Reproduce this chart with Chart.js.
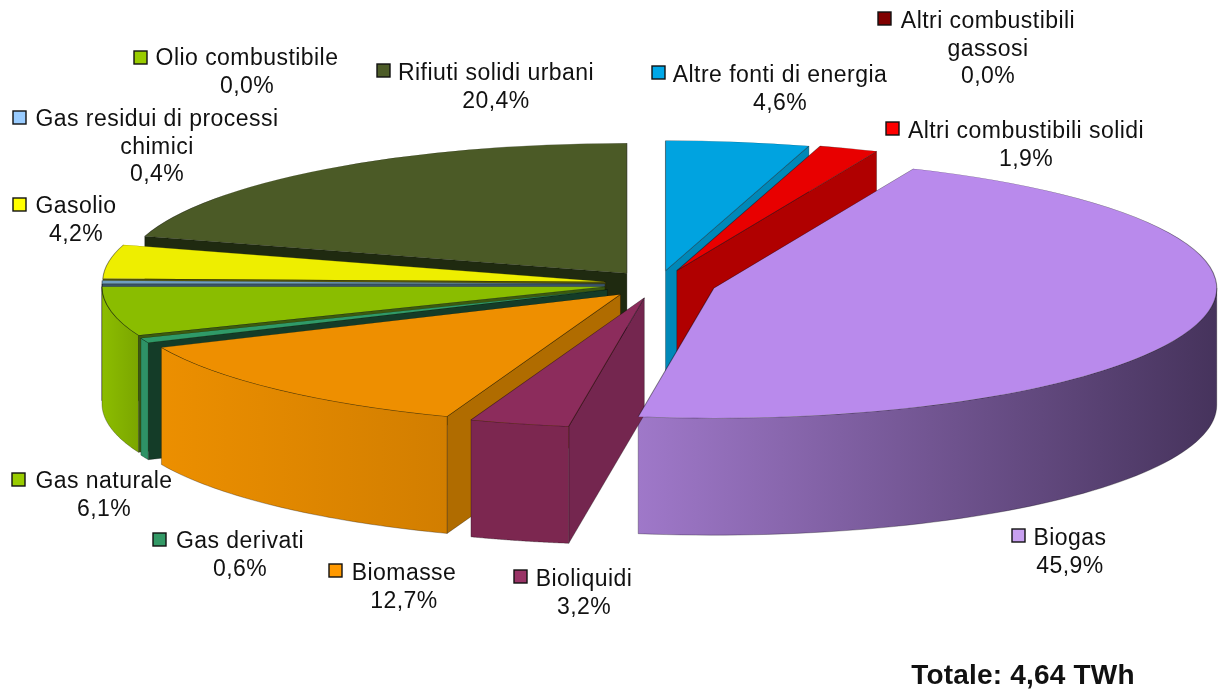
<!DOCTYPE html>
<html lang="it">
<head>
    <meta charset="UTF-8">
    <title>Totale: 4,64 TWh</title>
    <style>
        html, body { margin: 0; padding: 0; background: #fff; }
        canvas { display: block; }
    </style>
</head>
<body>
    <canvas id="myChart" width="1219" height="690"></canvas>

    <script src="https://cdn.jsdelivr.net/npm/chart.js"></script>

    <script>
        const ctx = document.getElementById('myChart');

        // Data
        const categories = [
            'Altre fonti di energia', 'Altri combustibili solidi', 'Altri combustibili\ngassosi',
            'Biogas', 'Bioliquidi', 'Biomasse', 'Gas derivati', 'Gas naturale',
            'Gas residui di processi\nchimici', 'Gasolio', 'Olio combustibile', 'Rifiuti solidi urbani'
        ];
        const values = [4.6, 1.9, 0.0, 45.9, 3.2, 12.7, 0.6, 6.1, 0.4, 4.2, 0.0, 20.4];
        const totalLabel = 'Totale: 4,64 TWh';

        // Styles, same order as categories
        const topColors = ['#00a3e0', '#e80000', '#800000', '#b98aec', '#8c2c5c', '#ee8f00',
            '#2f9a68', '#8abd00', '#6f9ec0', '#eeee00', '#99cc00', '#4b5a26'];
        const radialColors = ['#0088b8', '#b00000', '#600000', '#8a68b0', '#74264f', '#b06c00',
            '#143c28', '#3c5a10', '#3a5468', '#55550a', '#6a9000', '#1f2a10'];
        const outerLeft = ['#0088b8', '#b00000', '#600000', '#9f78c9', '#7c2750', '#ec8f00',
            '#2e9266', '#8cbd00', '#6f9ec0', '#eeee00', '#99cc00', '#4b5a26'];
        const outerRight = ['#0088b8', '#b00000', '#600000', '#46335c', '#7c2750', '#d27e00',
            '#2e9266', '#7ba600', '#6f9ec0', '#eeee00', '#99cc00', '#4b5a26'];
        const swatchColors = ['#00a8e8', '#ff0000', '#800000', '#c8a0f0', '#993366', '#ff9900',
            '#339966', '#99cc00', '#99ccff', '#ffff00', '#99cc00', '#4d5c28'];
        const explode = [52, 55, 0, 58, 55, 55, 55, 54, 53, 53, 0, 52];

        // Label anchors: centre x, first baseline, swatch x, swatch y
        const labelSpots = [
            [780, 82, 652, 66], [1026, 138, 886, 122], [988, 28, 878, 12],
            [1070, 545, 1012, 529], [584, 586, 514, 570], [404, 580, 329, 564],
            [240, 548, 153, 533], [104, 488, 12, 473], [157, 126, 13, 111],
            [76, 213, 13, 198], [247, 65, 134, 51], [496, 80, 377, 64]
        ];

        const SQUASH = 0.2585;
        const DEPTH = 117;
        const LINE = 27.5;

        // Position of a slice once squashed and pulled out from the centre
        function sliceCentre(el, i) {
            const mid = (el.startAngle + el.endAngle) / 2;
            return {
                x: el.x + Math.cos(mid) * explode[i],
                y: el.y + Math.sin(mid) * explode[i] * SQUASH
            };
        }

        function rim(c, r, a) {
            return { x: c.x + Math.cos(a) * r, y: c.y + Math.sin(a) * r * SQUASH };
        }

        function radialWall(c, r, a, color) {
            const p = rim(c, r, a);
            ctx2d.beginPath();
            ctx2d.moveTo(c.x, c.y);
            ctx2d.lineTo(p.x, p.y);
            ctx2d.lineTo(p.x, p.y + DEPTH);
            ctx2d.lineTo(c.x, c.y + DEPTH);
            ctx2d.closePath();
            ctx2d.fillStyle = color;
            ctx2d.fill();
            ctx2d.strokeStyle = 'rgba(0,0,0,0.4)';
            ctx2d.lineWidth = 0.7;
            ctx2d.stroke();
        }

        function outerWall(c, r, a0, a1, i) {
            const from = Math.max(a0, 0);
            const to = Math.min(a1, Math.PI);
            if (to <= from) return;
            const p0 = rim(c, r, from);
            const p1 = rim(c, r, to);
            const left = Math.min(p0.x, p1.x);
            const right = Math.max(p0.x, p1.x, from <= 0 ? c.x + r : 0);
            const grad = ctx2d.createLinearGradient(left, 0, right, 0);
            grad.addColorStop(0, outerLeft[i]);
            grad.addColorStop(1, outerRight[i]);
            ctx2d.beginPath();
            for (let n = 0; n <= 60; n++) {
                const p = rim(c, r, from + (to - from) * n / 60);
                ctx2d.lineTo(p.x, p.y);
            }
            for (let n = 60; n >= 0; n--) {
                const p = rim(c, r, from + (to - from) * n / 60);
                ctx2d.lineTo(p.x, p.y + DEPTH);
            }
            ctx2d.closePath();
            ctx2d.fillStyle = grad;
            ctx2d.fill();
            ctx2d.strokeStyle = 'rgba(0,0,0,0.4)';
            ctx2d.lineWidth = 0.7;
            ctx2d.stroke();
        }

        let ctx2d;

        const pie3d = {
            id: 'pie3d',
            beforeDatasetDraw(chart, args) {
                ctx2d = chart.ctx;
                const arcs = args.meta.data;
                const order = arcs.map((el, i) => i)
                    .filter(i => arcs[i].circumference > 0)
                    .sort((a, b) =>
                        Math.sin((arcs[a].startAngle + arcs[a].endAngle) / 2) -
                        Math.sin((arcs[b].startAngle + arcs[b].endAngle) / 2));

                // sides first, back to front
                order.forEach(i => {
                    const el = arcs[i];
                    const c = sliceCentre(el, i);
                    const r = el.outerRadius;
                    if (Math.cos(el.startAngle) < 0) radialWall(c, r, el.startAngle, radialColors[i]);
                    if (Math.cos(el.endAngle) > 0) radialWall(c, r, el.endAngle, radialColors[i]);
                    outerWall(c, r, el.startAngle, el.endAngle, i);
                });

                // tops, drawn by the arc elements themselves
                order.forEach(i => {
                    const el = arcs[i];
                    const c = sliceCentre(el, i);
                    ctx2d.save();
                    ctx2d.translate(c.x, c.y);
                    ctx2d.scale(1, SQUASH);
                    ctx2d.translate(-el.x, -el.y);
                    el.draw(ctx2d);
                    ctx2d.restore();
                });
                return false;
            },
            afterDraw(chart) {
                const g = chart.ctx;
                g.save();
                g.textAlign = 'center';
                g.textBaseline = 'alphabetic';
                g.fillStyle = '#111';
                g.font = '23px "Liberation Sans", Arial, sans-serif';
                g.letterSpacing = '0.45px';
                categories.forEach((name, i) => {
                    const [x, y, sx, sy] = labelSpots[i];
                    const lines = name.split('\n');
                    lines.push(values[i].toFixed(1).replace('.', ',') + '%');
                    lines.forEach((line, n) => g.fillText(line, x, y + n * LINE));
                    g.fillStyle = swatchColors[i];
                    g.fillRect(sx, sy, 13, 13);
                    g.strokeStyle = '#111';
                    g.lineWidth = 1.4;
                    g.strokeRect(sx, sy, 13, 13);
                    g.fillStyle = '#111';
                });
                g.font = 'bold 28px "Liberation Sans", Arial, sans-serif';
                g.letterSpacing = '0.2px';
                g.fillText(totalLabel, 1023, 684);
                g.restore();
            }
        };

        new Chart(ctx, {
            type: 'pie',
            data: {
                labels: categories,
                datasets: [{
                    data: values,
                    backgroundColor: topColors,
                    borderColor: 'rgba(0,0,0,0.45)',
                    borderWidth: 1.1,
                    radius: 503
                }]
            },
            options: {
                responsive: false,
                animation: false,
                layout: { padding: { left: 97, bottom: 122 } },
                plugins: {
                    legend: { display: false },
                    tooltip: { enabled: false }
                }
            },
            plugins: [pie3d]
        });
    </script>
</body>
</html>
